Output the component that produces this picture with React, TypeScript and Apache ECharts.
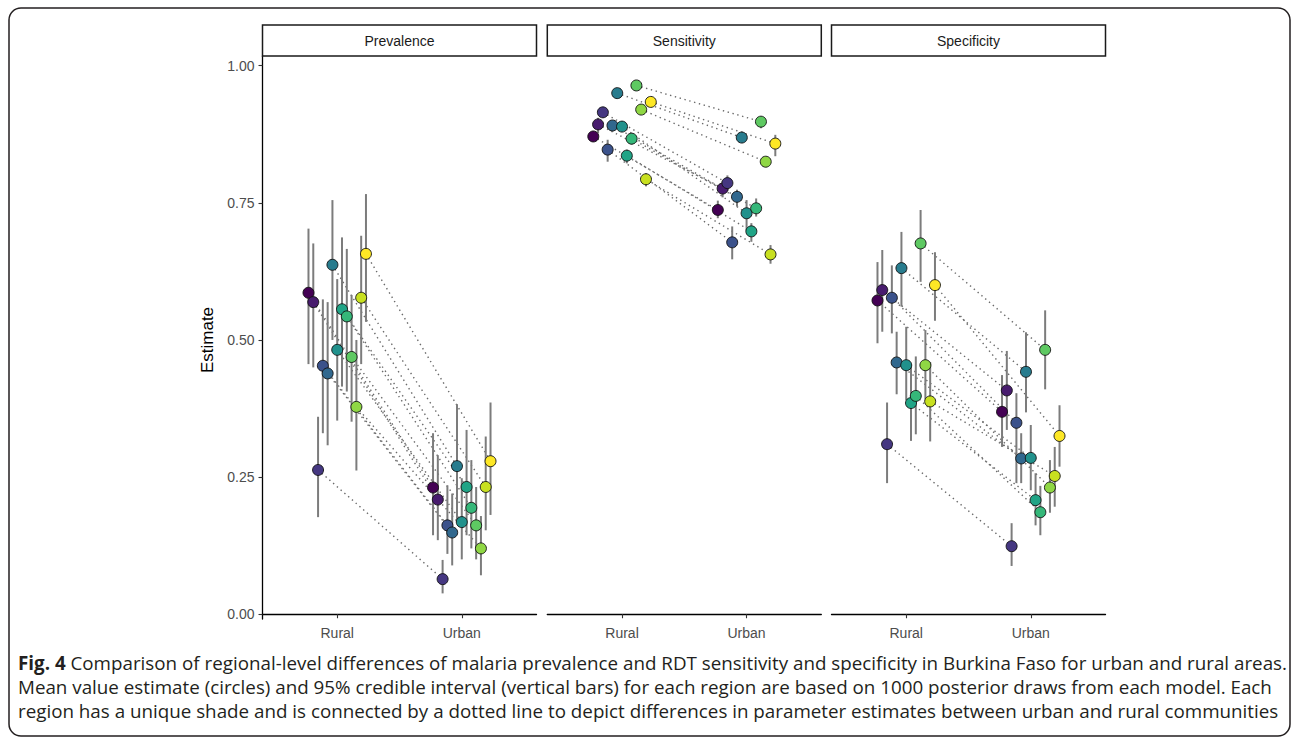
import React, { useEffect, useRef } from 'react';
import * as echarts from 'echarts';

const PANELS = ['Prevalence', 'Sensitivity', 'Specificity'];
const CATEGORIES = ['Rural', 'Urban'];
const Y_TICKS = [0, 0.25, 0.5, 0.75, 1];
const REGION_COLORS = [
  '#440154', '#481c6e', '#453781', '#3b528b', '#31688e', '#287c8e', '#21918c',
  '#20a486', '#35b779', '#5ec962', '#8fd744', '#c8e020', '#fde725',
];

// Prevalence
const prevRural = [0.586, 0.569, 0.263, 0.453, 0.439, 0.637, 0.482, 0.556, 0.543, 0.469, 0.378, 0.577, 0.657];
const prevRuralLo = [0.456, 0.450, 0.177, 0.330, 0.308, 0.500, 0.353, 0.415, 0.406, 0.351, 0.262, 0.456, 0.533];
const prevRuralHi = [0.703, 0.676, 0.360, 0.574, 0.569, 0.755, 0.611, 0.687, 0.666, 0.582, 0.500, 0.690, 0.766];
const prevUrban = [0.231, 0.209, 0.064, 0.162, 0.149, 0.270, 0.168, 0.232, 0.194, 0.162, 0.120, 0.232, 0.279];
const prevUrbanLo = [0.144, 0.135, 0.038, 0.110, 0.089, 0.168, 0.100, 0.144, 0.120, 0.100, 0.071, 0.153, 0.181];
const prevUrbanHi = [0.330, 0.290, 0.099, 0.235, 0.220, 0.383, 0.248, 0.336, 0.281, 0.232, 0.179, 0.324, 0.386];

// Sensitivity
const sensRural = [0.871, 0.893, 0.915, 0.847, 0.891, 0.950, 0.889, 0.836, 0.867, 0.964, 0.920, 0.793, 0.934];
const sensRuralLo = [0.862, 0.877, 0.905, 0.825, 0.880, 0.941, 0.880, 0.822, 0.856, 0.956, 0.911, 0.780, 0.926];
const sensRuralHi = [0.880, 0.905, 0.923, 0.865, 0.898, 0.959, 0.898, 0.847, 0.877, 0.971, 0.929, 0.804, 0.941];
const sensUrban = [0.737, 0.776, 0.786, 0.678, 0.761, 0.869, 0.731, 0.698, 0.740, 0.898, 0.825, 0.656, 0.858];
const sensUrbanLo = [0.722, 0.760, 0.772, 0.647, 0.743, 0.859, 0.700, 0.679, 0.725, 0.886, 0.815, 0.639, 0.835];
const sensUrbanHi = [0.754, 0.790, 0.800, 0.707, 0.774, 0.880, 0.755, 0.713, 0.758, 0.907, 0.834, 0.673, 0.874];

// Specificity
const specRural = [0.572, 0.591, 0.310, 0.577, 0.459, 0.631, 0.454, 0.385, 0.398, 0.676, 0.454, 0.388, 0.600];
const specRuralLo = [0.494, 0.515, 0.239, 0.512, 0.401, 0.561, 0.390, 0.316, 0.328, 0.606, 0.392, 0.315, 0.535];
const specRuralHi = [0.642, 0.664, 0.386, 0.636, 0.515, 0.697, 0.524, 0.454, 0.470, 0.737, 0.518, 0.460, 0.660];
const specUrban = [0.369, 0.408, 0.124, 0.349, 0.284, 0.442, 0.285, 0.208, 0.186, 0.482, 0.231, 0.252, 0.325];
const specUrbanLo = [0.305, 0.336, 0.088, 0.239, 0.239, 0.368, 0.226, 0.162, 0.144, 0.410, 0.185, 0.196, 0.269];
const specUrbanHi = [0.436, 0.480, 0.166, 0.403, 0.330, 0.514, 0.345, 0.257, 0.234, 0.554, 0.281, 0.305, 0.381];

const CAPTION_1 = '{b|Fig. 4} Comparison of regional-level differences of malaria prevalence and RDT sensitivity and specificity in Burkina Faso for urban and rural areas.';
const CAPTION_2 = 'Mean value estimate (circles) and 95% credible interval (vertical bars) for each region are based on 1000 posterior draws from each model. Each';
const CAPTION_3 = 'region has a unique shade and is connected by a dotted line to depict differences in parameter estimates between urban and rural communities';

export default function App() {
  const ref = useRef<HTMLDivElement>(null);

  useEffect(() => {
    const chart = echarts.init(ref.current!, null, { renderer: 'svg' });
    const FONT = 'Liberation Sans, Arial, sans-serif';
    const CAP_FONT = 'Open Sans, sans-serif';
    const CAP_SIZE = 18.8;
    const n = REGION_COLORS.length;
    const DODGE = 0.5;
    const off = (i: number) => ((i - (n - 1) / 2) * DODGE) / n;
    const idx = REGION_COLORS.map((_, i) => i);

    const panelSets = [
      { r: prevRural, rLo: prevRuralLo, rHi: prevRuralHi, u: prevUrban, uLo: prevUrbanLo, uHi: prevUrbanHi },
      { r: sensRural, rLo: sensRuralLo, rHi: sensRuralHi, u: sensUrban, uLo: sensUrbanLo, uHi: sensUrbanHi },
      { r: specRural, rLo: specRuralLo, rHi: specRuralHi, u: specUrban, uLo: specUrbanLo, uHi: specUrbanHi },
    ];

    const PANEL_LEFT = [262.5, 547.3, 831.5];
    const PANEL_W = 274;
    const PANEL_TOP = 56;
    const PANEL_H = 563;
    const Y_MIN = -0.0087;
    const Y_MAX = 1.0177;

    const grid = PANEL_LEFT.map((l) => ({ left: l, top: PANEL_TOP, width: PANEL_W, height: PANEL_H }));

    const xAxis = PANEL_LEFT.map((_, k) => ({
      type: 'value',
      gridIndex: k,
      min: 0.4,
      max: 2.6,
      splitLine: { show: false },
      axisLine: { show: true, lineStyle: { color: '#000', width: 1.3 } },
      axisTick: { show: true, length: 4, customValues: [1, 2], lineStyle: { color: '#333', width: 1.1 } },
      axisLabel: {
        show: true,
        customValues: [1, 2],
        formatter: (v: number) => CATEGORIES[Math.round(v) - 1] ?? '',
        color: '#4d4d4d',
        fontSize: 14,
        fontFamily: FONT,
        margin: 7,
      },
    }));

    const yAxis = PANEL_LEFT.map((_, k) => ({
      type: 'value',
      gridIndex: k,
      min: Y_MIN,
      max: Y_MAX,
      splitLine: { show: false },
      axisLine: { show: k === 0, lineStyle: { color: '#000', width: 1.3 } },
      axisTick: { show: k === 0, length: 4, customValues: Y_TICKS, lineStyle: { color: '#333', width: 1.1 } },
      axisLabel: {
        show: k === 0,
        customValues: Y_TICKS,
        formatter: (v: number) => v.toFixed(2),
        color: '#4d4d4d',
        fontSize: 14,
        fontFamily: FONT,
        margin: 8,
      },
    }));

    const series: any[] = [];
    panelSets.forEach((p, k) => {
      series.push({
        type: 'custom',
        xAxisIndex: k,
        yAxisIndex: k,
        z: 1,
        silent: true,
        data: idx.map((i) => [1 + off(i), p.r[i], 2 + off(i), p.u[i]]),
        renderItem: (_params: any, api: any) => {
          const a = api.coord([api.value(0), api.value(1)]);
          const b = api.coord([api.value(2), api.value(3)]);
          return {
            type: 'line',
            shape: { x1: a[0], y1: a[1], x2: b[0], y2: b[1] },
            style: { stroke: '#6a6a6a', lineWidth: 1.4, lineDash: [1.4, 3.6] },
          };
        },
      });
      series.push({
        type: 'custom',
        xAxisIndex: k,
        yAxisIndex: k,
        z: 2,
        silent: true,
        data: idx.flatMap((i) => [
          [1 + off(i), p.rLo[i], p.rHi[i]],
          [2 + off(i), p.uLo[i], p.uHi[i]],
        ]),
        renderItem: (_params: any, api: any) => {
          const a = api.coord([api.value(0), api.value(1)]);
          const b = api.coord([api.value(0), api.value(2)]);
          return {
            type: 'line',
            shape: { x1: a[0], y1: a[1], x2: b[0], y2: b[1] },
            style: { stroke: '#7c7c7c', lineWidth: 2 },
          };
        },
      });
      series.push({
        type: 'scatter',
        xAxisIndex: k,
        yAxisIndex: k,
        z: 3,
        symbol: 'circle',
        symbolSize: 11,
        data: idx.flatMap((i) => [
          { value: [1 + off(i), p.r[i]], itemStyle: { color: REGION_COLORS[i] } },
          { value: [2 + off(i), p.u[i]], itemStyle: { color: REGION_COLORS[i] } },
        ]),
        itemStyle: { borderColor: '#111', borderWidth: 0.9, opacity: 1 },
      });
    });

    const graphic: any[] = [];
    PANELS.forEach((name, k) => {
      graphic.push({
        type: 'rect',
        shape: { x: PANEL_LEFT[k], y: 25, width: PANEL_W, height: 31 },
        style: { fill: '#fff', stroke: '#1a1a1a', lineWidth: 1.5 },
        z: 10,
      });
      graphic.push({
        type: 'text',
        x: PANEL_LEFT[k] + PANEL_W / 2,
        y: 41,
        style: { text: name, fontSize: 14, fontFamily: FONT, fill: '#1a1a1a', align: 'center', verticalAlign: 'middle' },
        z: 11,
      });
    });
    graphic.push({
      type: 'text',
      x: 207,
      y: 340,
      rotation: Math.PI / 2,
      style: { text: 'Estimate', fontSize: 17, fontFamily: FONT, fill: '#000', align: 'center', verticalAlign: 'middle' },
    });
    [CAPTION_1, CAPTION_2, CAPTION_3].forEach((t, j) => {
      graphic.push({
        type: 'text',
        x: 18,
        y: 663 + j * 24,
        style: {
          text: t,
          fontSize: CAP_SIZE,
          fontFamily: CAP_FONT,
          fill: '#231f20',
          align: 'left',
          verticalAlign: 'middle',
          rich: { b: { fontWeight: 'bold', fontSize: CAP_SIZE, fontFamily: CAP_FONT, fill: '#231f20' } },
        },
      });
    });
    graphic.push({
      type: 'rect',
      shape: { x: 9, y: 8, width: 1281, height: 728, r: 12 },
      style: { fill: 'none', stroke: '#231f20', lineWidth: 1.5 },
      z: 0,
    });

    chart.setOption({
      animation: false,
      backgroundColor: '#fff',
      grid,
      xAxis,
      yAxis,
      series,
      graphic,
    });

    return () => chart.dispose();
  }, []);

  return <div ref={ref} style={{ position: 'fixed', left: 0, top: 0, width: 1292, height: 740 }} />;
}
